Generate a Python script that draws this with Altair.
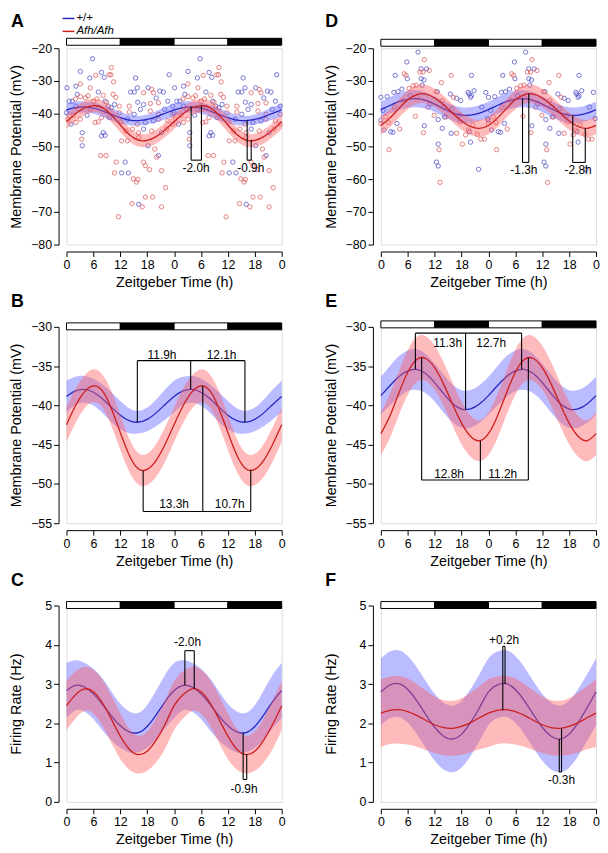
import altair as alt
import pandas as pd

FONT = "Liberation Sans"
W, H = 217, 198

HOURS = [0, 2, 4, 6, 8, 10, 12, 14, 16, 18, 20, 22, 24]
ZT_TICKS = [0, 6, 12, 18, 24, 30, 36, 42, 48]

DN_START = [0, 12, 24, 36]
DN_END = [12, 24, 36, 48]
DN_FILL = ["white", "black", "white", "black"]

# ---- cosinor fits, membrane potential (panels A/B) ----
MP1_WT = [-38.86, -38.15, -37.96, -38.32, -39.15, -40.22, -41.24, -41.95, -42.14, -41.78, -40.95, -39.88, -38.86]
MP1_WT_SD = [2.0, 1.8, 1.7, 1.7, 1.8, 1.9, 1.8, 1.6, 1.45, 1.5, 1.7, 1.9, 2.0]
MP1_AFH = [-42.46, -40.05, -38.28, -37.51, -38.16, -40.38, -43.46, -46.34, -48.07, -48.15, -47.00, -44.95, -42.46]
MP1_AFH_SD = [2.2, 2.2, 2.1, 2.1, 2.1, 2.2, 2.2, 2.1, 2.0, 2.0, 2.1, 2.2, 2.2]

# ---- membrane potential (panels D/E) ----
MP2_WT = [-38.75, -37.50, -36.35, -35.60, -35.42, -35.95, -37.10, -38.50, -39.75, -40.46, -40.44, -39.82, -38.75]
MP2_WT_SD = [2.4, 2.5, 2.6, 2.6, 2.6, 2.5, 2.4, 2.4, 2.4, 2.4, 2.4, 2.4, 2.4]
MP2_AFH = [-43.60, -41.37, -38.46, -35.78, -34.15, -34.03, -35.19, -37.29, -39.85, -42.25, -43.93, -44.50, -43.60]
MP2_AFH_SD = [2.7, 2.8, 2.8, 2.85, 2.85, 2.85, 2.8, 2.8, 2.75, 2.7, 2.6, 2.6, 2.7]

# ---- firing rate (panel C) ----
FR1_WT = [2.835, 2.966, 2.924, 2.750, 2.485, 2.192, 1.937, 1.780, 1.762, 1.920, 2.215, 2.555, 2.835]
FR1_WT_SD = [0.70, 0.64, 0.62, 0.64, 0.66, 0.62, 0.56, 0.52, 0.50, 0.54, 0.62, 0.68, 0.70]
FR1_AFH = [2.45, 2.725, 2.876, 2.805, 2.523, 2.107, 1.673, 1.340, 1.202, 1.289, 1.570, 1.975, 2.45]
FR1_AFH_SD = [0.62, 0.60, 0.56, 0.56, 0.58, 0.60, 0.58, 0.52, 0.48, 0.50, 0.56, 0.62, 0.62]

# ---- firing rate (panel F) ----
FR2_WT = [2.80, 2.977, 3.009, 2.862, 2.580, 2.230, 1.900, 1.671, 1.601, 1.724, 2.018, 2.397, 2.80]
FR2_WT_SD = [0.85, 0.85, 0.85, 0.85, 0.85, 0.85, 0.85, 0.85, 0.85, 0.85, 0.85, 0.85, 0.85]
FR2_AFH = [2.26, 2.332, 2.348, 2.300, 2.202, 2.079, 1.964, 1.888, 1.872, 1.920, 2.018, 2.141, 2.26]
FR2_AFH_SD = [0.86, 0.86, 0.86, 0.84, 0.80, 0.76, 0.72, 0.70, 0.70, 0.72, 0.76, 0.80, 0.86]

# ---- individual cells (ZT h, mV), double plotted ----
A_WT_PTS = [(5.8, -23.2), (3.1, -27.1), (7.8, -27.4), (5.2, -29.1), (8.4, -28.9), (15.4, -29.1), (22.9, -28.1),
            (0.1, -32.1), (2.1, -31.6), (15.8, -32.1), (18.2, -32.1), (20.8, -33.1), (21.6, -33.4), (2.4, -34.1),
            (7.1, -33.4), (14.3, -33.4), (15.1, -33.4), (20.0, -35.2), (0.6, -36.2), (1.3, -36.2), (2.1, -37.7),
            (8.6, -36.2), (10.7, -37.2), (9.3, -37.7), (15.9, -36.5), (17.2, -37.2), (22.6, -36.2), (23.7, -37.7),
            (7.1, -38.2), (10.0, -38.2), (15.1, -40.2), (16.5, -38.7), (21.9, -38.7), (0.0, -39.7), (1.0, -43.2),
            (4.6, -40.5), (9.6, -41.2), (13.6, -41.7), (17.6, -42.7), (19.4, -42.2), (8.2, -45.8), (8.6, -46.6),
            (7.8, -46.8), (17.2, -44.7), (21.2, -45.8), (3.5, -45.8), (3.5, -49.8), (18.2, -49.8), (20.5, -52.8),
            (13.1, -54.8), (12.3, -58.1), (13.8, -58.1), (16.1, -67.7)]
A_AFH_PTS = [(10.0, -25.9), (3.1, -30.9), (6.5, -28.3), (9.5, -28.1), (9.9, -28.1), (10.5, -30.3), (5.3, -32.1),
             (19.0, -32.6), (3.1, -34.8), (4.2, -35.2), (6.0, -36.2), (8.2, -34.4), (10.4, -34.1), (17.2, -33.6),
             (19.4, -33.6), (11.8, -37.7), (14.0, -37.7), (18.7, -36.9), (20.5, -36.7), (2.8, -38.7), (5.3, -38.7),
             (11.8, -39.7), (14.0, -39.5), (18.7, -39.2), (20.5, -40.2), (23.7, -40.2), (0.3, -41.7), (2.1, -42.7),
             (3.1, -41.7), (6.4, -42.7), (7.1, -42.5), (7.8, -41.2), (12.2, -42.5), (15.8, -43.2), (20.5, -41.7),
             (22.6, -42.2), (23.7, -43.2), (13.3, -45.3), (14.7, -44.7), (16.1, -45.8), (19.0, -45.3), (22.3, -44.7),
             (3.4, -47.8), (12.3, -48.3), (13.6, -48.3), (16.1, -47.3), (19.7, -50.8), (20.1, -53.3), (7.6, -52.8),
             (8.8, -52.8), (11.1, -54.8), (17.2, -54.8), (17.6, -55.9), (10.7, -58.1), (14.9, -59.9), (15.9, -60.1),
             (15.6, -60.9), (18.5, -57.1), (21.2, -57.4), (17.6, -65.5), (19.2, -65.5), (14.6, -67.5), (16.9, -68.5),
             (21.2, -68.5), (22.1, -62.6), (11.6, -71.5), (2.0, -35.5), (4.8, -34.5), (6.8, -35.5), (1.5, -40.5),
             (8.9, -36.5), (11.0, -35.0)]
D_WT_PTS = [(8.3, -21.2), (5.8, -24.2), (3.2, -28.3), (5.9, -29.3), (9.0, -26.3), (10.2, -26.3), (9.0, -29.3),
            (9.6, -29.7), (9.2, -31.3), (20.2, -28.3), (12.6, -33.3), (0.0, -35.0), (1.4, -34.8), (2.9, -33.5),
            (3.8, -33.3), (4.7, -32.5), (15.5, -34.0), (16.9, -35.3), (17.8, -36.0), (19.5, -33.5), (20.0, -35.0),
            (20.2, -34.5), (20.8, -33.0), (19.7, -34.0), (23.4, -33.5), (14.1, -38.0), (15.9, -38.5), (14.2, -41.0),
            (0.0, -42.0), (0.5, -39.0), (0.7, -45.0), (2.2, -45.5), (2.7, -45.7), (3.6, -43.0), (9.7, -43.7),
            (12.8, -41.8), (13.7, -44.5), (15.7, -46.0), (20.0, -48.7), (19.8, -45.5), (23.8, -41.5), (12.8, -49.3),
            (12.4, -54.8), (12.8, -56.0), (21.8, -57.0), (6.5, -34.5), (11.0, -37.0), (17.5, -40.5), (22.5, -38.0)]
D_AFH_PTS = [(9.7, -23.5), (5.2, -27.8), (5.6, -28.3), (8.7, -27.3), (9.4, -27.3), (10.8, -26.8), (15.7, -28.3),
             (13.5, -30.5), (12.3, -33.3), (6.3, -32.3), (7.2, -31.5), (7.9, -31.3), (16.2, -35.0), (13.7, -36.0),
             (1.1, -41.0), (1.7, -42.7), (0.0, -43.0), (4.2, -44.7), (1.8, -51.0), (7.7, -40.8), (9.5, -45.8),
             (11.9, -40.5), (16.9, -46.0), (18.2, -49.3), (18.9, -46.5), (19.5, -45.0), (21.5, -46.3), (22.3, -47.8),
             (23.1, -47.8), (13.0, -51.0), (13.2, -61.0), (17.7, -42.5), (3.0, -38.0), (5.0, -36.0), (8.0, -35.0),
             (10.5, -38.0), (14.5, -41.0), (20.5, -43.5)]

# ---- phase annotations: vertical rules (x, from, to), horizontal rules (x1, x2, y), labels ----
A_VR = ([27.8, 30.1, 40.3, 41.2], [-37.9, -37.6, -42.1, -48.0], [-54.2, -54.2, -54.2, -54.2])
A_HR = ([27.8, 40.3], [30.1, 41.2], [-54.2, -54.2])
A_LB = (["-2.0h", "-0.9h"], [28.9, 41.1], [-56.7, -56.7])

D_VR = ([31.6, 33.0, 42.8, 45.6], [-35.4, -33.9, -40.5, -44.4], [-54.9, -54.9, -54.9, -54.9])
D_HR = ([31.6, 42.8], [33.0, 45.6], [-54.9, -54.9])
D_LB = (["-1.3h", "-2.8h"], [31.9, 44.0], [-57.2, -57.2])

B_VR = ([15.8, 27.7, 39.8, 17.1, 30.4, 41.1], [-34.3, -34.3, -34.3, -53.5, -53.5, -53.5],
        [-42.15, -37.95, -42.1, -48.3, -37.5, -48.2])
B_HR = ([15.8, 17.1], [39.8, 41.1], [-34.3, -53.5])
B_LB = (["11.9h", "12.1h", "13.3h", "10.7h"], [21.3, 34.6, 24.0, 36.4], [-33.55, -33.55, -52.6, -52.6])

E_VR = ([7.7, 18.9, 31.4, 9.1, 22.2, 32.9], [-30.8, -30.8, -30.8, -49.5, -49.5, -49.5],
        [-35.4, -40.5, -35.4, -33.9, -44.5, -33.9])
E_HR = ([7.7, 9.1], [31.4, 32.9], [-30.8, -49.5])
E_LB = (["11.3h", "12.7h", "12.8h", "11.2h"], [14.9, 24.6, 15.2, 27.2], [-32.0, -32.0, -48.7, -48.7])

C_VR = ([26.4, 28.5, 39.4, 40.2], [3.85, 3.85, 0.57, 0.57], [2.97, 2.88, 1.76, 1.21])
C_HR = ([26.4, 39.4], [28.5, 40.2], [3.85, 0.57])
C_LB = (["-2.0h", "-0.9h"], [27.0, 39.6], [4.08, 0.33])

F_VR = ([27.2, 27.7, 39.8, 40.3], [3.96, 3.96, 0.76, 0.76], [2.33, 3.0, 1.60, 1.87])
F_HR = ([27.2, 39.8], [27.7, 40.3], [3.96, 0.76])
F_LB = (["+0.2h", "-0.3h"], [27.5, 40.3], [4.12, 0.55])

BLUE = "#2828c0"
RED = "#cc2020"
BLUE_BAND = "#5c5cff"
RED_BAND = "#ff5c5c"
PT_BLUE = "#5050c8"
PT_RED = "#e05a5a"


def curve_frame(center, sd):
    rows = []
    for shift in (0, 24):
        for h, c, s in zip(HOURS, center, sd):
            if shift == 24 and h == 0:
                continue
            rows.append({"t": h + shift, "v": c, "lo": c - s, "hi": c + s})
    return pd.DataFrame(rows)


def scatter_frame(pts):
    rows = []
    for shift in (0, 24):
        for h, v in pts:
            rows.append({"t": h + shift, "v": v})
    return pd.DataFrame(rows)


def xenc(field):
    return alt.X(
        f"{field}:Q",
        scale=alt.Scale(domain=[0, 48], nice=False, zero=False),
        axis=alt.Axis(values=ZT_TICKS, labelExpr="'' + (datum.value % 24)", title="Zeitgeber Time (h)",
                      offset=7, grid=False, tickSize=5, labelPadding=2, titlePadding=5,
                      domainColor="black", tickColor="black", labelColor="black", titleColor="black",
                      labelFontSize=12.5, titleFontSize=14.5, titleFontWeight="normal",
                      labelFont=FONT, titleFont=FONT, labelFlush=False, labelOverlap=False),
    )


def yenc(field, dom, ticks, title):
    return alt.Y(
        f"{field}:Q",
        scale=alt.Scale(domain=dom, nice=False, zero=False),
        axis=alt.Axis(values=ticks, title=title, offset=8, grid=False, tickSize=5, labelPadding=2,
                      titleX=-35, titleBaseline="bottom",
                      domainColor="black", tickColor="black", labelColor="black", titleColor="black",
                      labelFontSize=12.5, titleFontSize=14.5, titleFontWeight="normal",
                      labelFont=FONT, titleFont=FONT, labelFlush=False, labelOverlap=False),
    )


def panel(letter, ydom, yticks, ytitle, wt, wt_sd, afh, afh_sd, vr, hr, lb, bar, letter_y,
          pts=None, legend=False):
    X = xenc
    Y = lambda f: yenc(f, ydom, yticks, ytitle)
    layers = []
    if pts is not None:
        for p, col in ((pts[0], PT_BLUE), (pts[1], PT_RED)):
            layers.append(
                alt.Chart(scatter_frame(p)).mark_point(shape="circle", filled=False, size=19, strokeWidth=0.9,
                                                       opacity=0.85)
                .encode(x=X("t"), y=Y("v"), stroke=alt.value(col))
            )
    wdf = curve_frame(wt, wt_sd)
    adf = curve_frame(afh, afh_sd)
    layers.append(alt.Chart(wdf).mark_area(interpolate="natural", color=BLUE_BAND, opacity=0.42)
                  .encode(x=X("t"), y=Y("lo"), y2="hi"))
    layers.append(alt.Chart(wdf).mark_line(interpolate="natural", color=BLUE, strokeWidth=1.3)
                  .encode(x=X("t"), y=Y("v")))
    layers.append(alt.Chart(adf).mark_area(interpolate="natural", color=RED_BAND, opacity=0.42)
                  .encode(x=X("t"), y=Y("lo"), y2="hi"))
    layers.append(alt.Chart(adf).mark_line(interpolate="natural", color=RED, strokeWidth=1.3)
                  .encode(x=X("t"), y=Y("v")))

    vdf = pd.DataFrame({"x": vr[0], "y1": vr[1], "y2": vr[2]})
    layers.append(alt.Chart(vdf).mark_rule(color="black", strokeWidth=1.1)
                  .encode(x=X("x"), y=Y("y1"), y2="y2"))
    hdf = pd.DataFrame({"x1": hr[0], "x2": hr[1], "y": hr[2]})
    layers.append(alt.Chart(hdf).mark_rule(color="black", strokeWidth=1.1)
                  .encode(x=X("x1"), x2="x2", y=Y("y")))
    ldf = pd.DataFrame({"s": lb[0], "x": lb[1], "y": lb[2]})
    layers.append(alt.Chart(ldf).mark_text(fontSize=12, font=FONT, color="black", baseline="middle")
                  .encode(x=X("x"), y=Y("y"), text="s:N"))

    ddf = pd.DataFrame({"s": DN_START, "e": DN_END, "c": DN_FILL})
    layers.append(alt.Chart(ddf).mark_rect(stroke="black", strokeWidth=1)
                  .encode(x=X("s"), x2="e", y=alt.value(bar[0]), y2=alt.value(bar[1]),
                          fill=alt.Fill("c:N", scale=None)))

    layers.append(alt.Chart(pd.DataFrame({"s": [letter]}))
                  .mark_text(align="left", baseline="top", fontSize=18, fontWeight="bold", font=FONT,
                             color="black")
                  .encode(x=alt.value(-56), y=alt.value(letter_y), text="s:N"))
    if legend:
        one = pd.DataFrame({"d": [0]})
        layers.append(alt.Chart(one).mark_rule(color=BLUE, strokeWidth=1.5)
                      .encode(x=alt.value(-4), x2=alt.value(8), y=alt.value(-30)))
        layers.append(alt.Chart(one).mark_rule(color=RED, strokeWidth=1.5)
                      .encode(x=alt.value(-4), x2=alt.value(8), y=alt.value(-17)))
        layers.append(alt.Chart(pd.DataFrame({"s": ["+/+"]}))
                      .mark_text(align="left", baseline="middle", fontSize=11.5, font=FONT, color="black")
                      .encode(x=alt.value(10), y=alt.value(-30.5), text="s:N"))
        layers.append(alt.Chart(pd.DataFrame({"s": ["Afh/Afh"]}))
                      .mark_text(align="left", baseline="middle", fontSize=11.5, font=FONT, color="black",
                                 fontStyle="italic")
                      .encode(x=alt.value(10), y=alt.value(-17), text="s:N"))
    return alt.layer(*layers).properties(width=W, height=H)


MP_TICKS_WIDE = [-80, -70, -60, -50, -40, -30, -20]
MP_TICKS_ZOOM = [-55, -50, -45, -40, -35, -30]
FR_TICKS = [0, 1, 2, 3, 4, 5]
MP_T = "Membrane Potential (mV)"
FR_T = "Firing Rate (Hz)"

pA = panel("A", [-80, -20], MP_TICKS_WIDE, MP_T, MP1_WT, MP1_WT_SD, MP1_AFH, MP1_AFH_SD,
           A_VR, A_HR, A_LB, (-10, -3), -35, pts=(A_WT_PTS, A_AFH_PTS), legend=True)
pD = panel("D", [-80, -20], MP_TICKS_WIDE, MP_T, MP2_WT, MP2_WT_SD, MP2_AFH, MP2_AFH_SD,
           D_VR, D_HR, D_LB, (-9, -2), -35, pts=(D_WT_PTS, D_AFH_PTS))
pB = panel("B", [-55, -30], MP_TICKS_ZOOM, MP_T, MP1_WT, MP1_WT_SD, MP1_AFH, MP1_AFH_SD,
           B_VR, B_HR, B_LB, (-4, 3), -34)
pE = panel("E", [-55, -30], MP_TICKS_ZOOM, MP_T, MP2_WT, MP2_WT_SD, MP2_AFH, MP2_AFH_SD,
           E_VR, E_HR, E_LB, (-6, 1), -34)
pC = panel("C", [0, 5], FR_TICKS, FR_T, FR1_WT, FR1_WT_SD, FR1_AFH, FR1_AFH_SD,
           C_VR, C_HR, C_LB, (-4, 3), -34)
pF = panel("F", [0, 5], FR_TICKS, FR_T, FR2_WT, FR2_WT_SD, FR2_AFH, FR2_AFH_SD,
           F_VR, F_HR, F_LB, (-4, 3), -34)

chart = (
    alt.concat(pA, pD, pB, pE, pC, pF, columns=2, spacing={"row": 2, "column": 37})
    .properties(padding={"left": 0, "top": 0, "right": 0, "bottom": 0})
    .configure_view(stroke=None)
    .configure(font=FONT)
)

chart.save("out.html", embed_options={"renderer": "svg", "actions": False})
